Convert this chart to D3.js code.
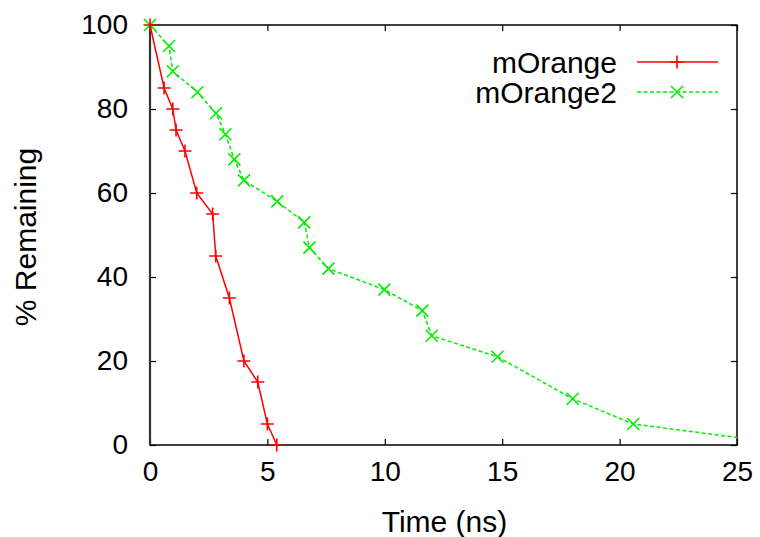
<!DOCTYPE html>
<html>
<head>
<meta charset="utf-8">
<script src="https://cdn.jsdelivr.net/npm/d3@7"></script>
<style>
  body { margin: 0; background: #fff; }
  text { font-family: "Liberation Sans", Arial, sans-serif; fill: #000; }
</style>
</head>
<body>
<svg id="main"></svg>
<script>
// data
var orangeTime = [0, 0.6, 0.97, 1.11, 1.49, 1.99, 2.67, 2.8, 3.38, 4.0, 4.59, 5.0, 5.4];
var orangeLeft = [100, 85, 80, 75, 70, 60, 55, 45, 35, 20, 15, 5, 0];
var orange2Time = [0, 0.81, 0.97, 2.02, 2.81, 3.21, 3.59, 4.0, 5.42, 6.57, 6.79, 7.6, 9.98, 11.6, 12.0, 14.8, 18.0, 20.58, 26.5];
var orange2Left = [100, 95, 89, 84, 79, 74, 68, 63, 58, 53, 47, 42, 37, 32, 26, 21, 11, 5, 0.7];
var xTicks = [0, 5, 10, 15, 20, 25];
var yTicks = [0, 20, 40, 60, 80, 100];

(function() {
  var w = 760;
  var h = 537;
  var padLeft = 150, padRight = 737, padTop = 25, padBottom = 445;

  var svg = d3.select("#main")
    .attr("width", w)
    .attr("height", h);

  var xScale = d3.scaleLinear().domain([0, 25]).range([padLeft, padRight]);
  var yScale = d3.scaleLinear().domain([0, 100]).range([padBottom, padTop]);

  svg.append("clipPath").attr("id", "clip")
    .append("rect")
    .attr("x", padLeft - 8).attr("y", padTop - 8)
    .attr("width", padRight - padLeft + 8).attr("height", padBottom - padTop + 16);

  // axes with inward ticks on all four sides
  var tickLen = 6;
  function noDomain(g) { g.select(".domain").remove(); }
  svg.append("g")
    .attr("transform", "translate(0," + padBottom + ")")
    .call(d3.axisBottom(xScale).tickValues(xTicks).tickSizeInner(-tickLen).tickSizeOuter(0).tickPadding(16))
    .call(noDomain);
  svg.append("g")
    .attr("transform", "translate(0," + padTop + ")")
    .call(d3.axisTop(xScale).tickValues(xTicks).tickSizeInner(-tickLen).tickSizeOuter(0).tickFormat(""))
    .call(noDomain);
  svg.append("g")
    .attr("transform", "translate(" + padLeft + ",0)")
    .call(d3.axisLeft(yScale).tickValues(yTicks).tickSizeInner(-tickLen).tickSizeOuter(0).tickPadding(22))
    .call(noDomain);
  svg.append("g")
    .attr("transform", "translate(" + padRight + ",0)")
    .call(d3.axisRight(yScale).tickValues(yTicks).tickSizeInner(-tickLen).tickSizeOuter(0).tickFormat(""))
    .call(noDomain);

  svg.selectAll(".tick line").attr("stroke", "#000").attr("stroke-width", 1.2);
  svg.selectAll(".tick text")
    .style("font-family", "'Liberation Sans', Arial, sans-serif")
    .style("font-size", "28px")
    .attr("fill", "#000");

  svg.append("rect")
    .attr("x", padLeft).attr("y", padTop)
    .attr("width", padRight - padLeft).attr("height", padBottom - padTop)
    .attr("fill", "none").attr("stroke", "#000").attr("stroke-width", 1.5);
  // left border is drawn heavier in the original
  svg.append("line")
    .attr("x1", padLeft).attr("x2", padLeft)
    .attr("y1", padTop).attr("y2", padBottom)
    .attr("stroke", "#333").attr("stroke-width", 2.2);

  // axis labels
  svg.append("text")
    .attr("x", (padLeft + padRight) / 2 + 1).attr("y", 532)
    .attr("text-anchor", "middle")
    .style("font-size", "30px")
    .text("Time (ns)");
  svg.append("text")
    .attr("transform", "translate(36,237) rotate(-90)")
    .attr("text-anchor", "middle")
    .style("font-size", "30px")
    .text("% Remaining");

  var line = d3.line()
    .x(function(d) { return xScale(d[0]); })
    .y(function(d) { return yScale(d[1]); });

  var redData = orangeTime.map(function(t, i) { return [t, orangeLeft[i]]; });
  var greenData = orange2Time.map(function(t, i) { return [t, orange2Left[i]]; });

  var plot = svg.append("g").attr("clip-path", "url(#clip)");

  function plus(x, y, s) {
    return "M" + (x - s) + "," + y + "H" + (x + s) + "M" + x + "," + (y - s) + "V" + (y + s);
  }
  function cross(x, y, s) {
    return "M" + (x - s) + "," + (y - s) + "L" + (x + s) + "," + (y + s) +
      "M" + (x - s) + "," + (y + s) + "L" + (x + s) + "," + (y - s);
  }

  plot.append("path")
    .datum(greenData)
    .attr("d", line)
    .attr("fill", "none")
    .attr("stroke", "#00ee00")
    .attr("stroke-width", 1.5)
    .attr("stroke-dasharray", "4,2.5");
  plot.selectAll(".gpt")
    .data(greenData.filter(function(d) { return d[0] <= 25; }))
    .enter().append("path")
    .attr("class", "gpt")
    .attr("d", function(d) { return cross(xScale(d[0]), yScale(d[1]), 6); })
    .attr("stroke", "#00ee00")
    .attr("stroke-width", 1.6);

  plot.append("path")
    .datum(redData)
    .attr("d", line)
    .attr("fill", "none")
    .attr("stroke", "#ff0000")
    .attr("stroke-width", 1.5);
  plot.selectAll(".rpt")
    .data(redData)
    .enter().append("path")
    .attr("class", "rpt")
    .attr("d", function(d) { return plus(xScale(d[0]), yScale(d[1]), 6.5); })
    .attr("stroke", "#ff0000")
    .attr("stroke-width", 1.6);

  // legend
  var legend = [
    { name: "mOrange", color: "#ff0000", dash: null, marker: plus, size: 6.5 },
    { name: "mOrange2", color: "#00ee00", dash: "4,2.5", marker: cross, size: 6 }
  ];
  legend.forEach(function(d, i) {
    var y = 62 + i * 30;
    svg.append("text")
      .attr("x", 617).attr("y", y)
      .attr("dy", "0.35em")
      .attr("text-anchor", "end")
      .style("font-size", "30px")
      .text(d.name);
    svg.append("line")
      .attr("x1", 637).attr("x2", 718)
      .attr("y1", y).attr("y2", y)
      .attr("stroke", d.color)
      .attr("stroke-width", 1.5)
      .attr("stroke-dasharray", d.dash);
    svg.append("path")
      .attr("d", d.marker(677, y, d.size))
      .attr("stroke", d.color)
      .attr("stroke-width", 1.6);
  });
})();
</script>
</body>
</html>
